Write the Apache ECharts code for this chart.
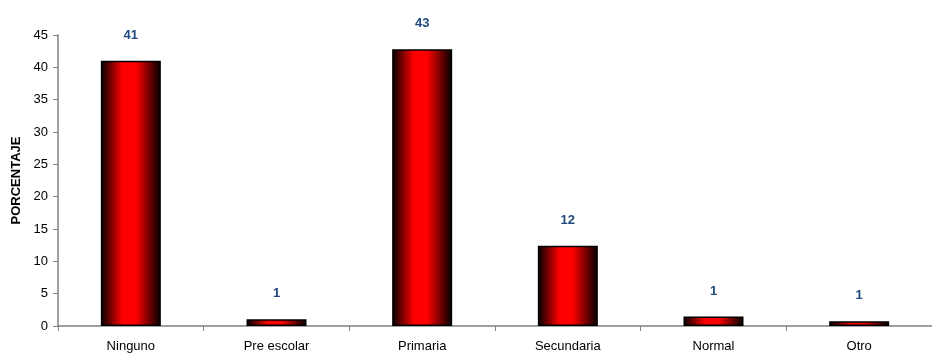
<!DOCTYPE html>
<html>
<head>
<meta charset="utf-8">
<script src="https://cdn.jsdelivr.net/npm/echarts@6/dist/echarts.min.js"></script>
<style>html,body{margin:0;padding:0;background:#fff}#c{width:932px;height:353px}</style>
</head>
<body>
<div id="c"></div>
<script>
const categories = ['Ninguno', 'Pre escolar', 'Primaria', 'Secundaria', 'Normal', 'Otro'];
const values = [41.0, 1.05, 42.8, 12.4, 1.45, 0.75];
const yTicks = { min: 0, max: 45, interval: 5 };
const yName = 'PORCENTAJE';

const chart = echarts.init(document.getElementById('c'), null, { renderer: 'canvas' });
const barGradient = new echarts.graphic.LinearGradient(0, 0, 1, 0, [
  { offset: 0, color: '#000000' },
  { offset: 0.36, color: '#ff0000' },
  { offset: 0.58, color: '#ff0000' },
  { offset: 1, color: '#000000' }
]);
const font = 'Liberation Sans, Arial, sans-serif';
chart.setOption({
  animation: false,
  backgroundColor: '#ffffff',
  grid: { left: 58, top: 35, width: 885, bottom: 26, containLabel: false },
  xAxis: {
    type: 'category',
    data: categories,
    axisLine: { lineStyle: { color: '#808080', width: 1.5 } },
    axisTick: { show: true, alignWithLabel: false, length: 5, lineStyle: { color: '#808080' } },
    axisLabel: { color: '#000', fontFamily: font, fontSize: 13, margin: 14 },
    splitLine: { show: false }
  },
  yAxis: {
    type: 'value',
    min: yTicks.min, max: yTicks.max, interval: yTicks.interval,
    name: yName,
    nameLocation: 'middle',
    nameRotate: 90,
    nameGap: 35,
    nameTextStyle: { color: '#000', fontFamily: font, fontSize: 13, fontWeight: 'bold' },
    axisLine: { show: true, lineStyle: { color: '#808080', width: 1.5 } },
    axisTick: { show: true, length: 5, lineStyle: { color: '#808080' } },
    axisLabel: { color: '#000', fontFamily: font, fontSize: 13, margin: 10 },
    splitLine: { show: false }
  },
  series: [{
    type: 'bar',
    data: values,
    barWidth: 60,
    itemStyle: { color: barGradient, borderColor: '#000', borderWidth: 1.5 },
    label: {
      show: true,
      position: 'top',
      distance: 19,
      color: '#1F497D',
      fontFamily: font,
      fontSize: 13,
      fontWeight: 'bold',
      formatter: p => Math.round(p.value)
    }
  }]
});
</script>
</body>
</html>
